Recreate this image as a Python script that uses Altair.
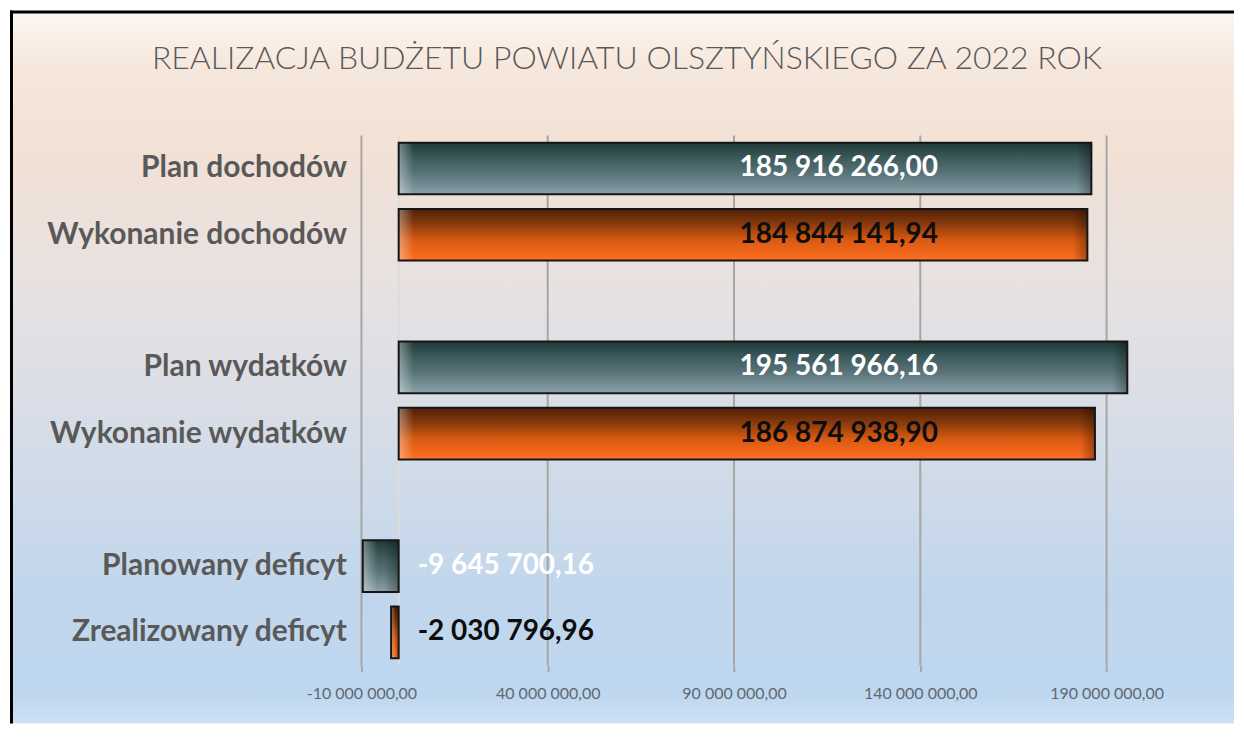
import altair as alt
import pandas as pd

# ---- data ----
categories = ["Plan dochodów", "Wykonanie dochodów", "Plan wydatków",
              "Wykonanie wydatków", "Planowany deficyt", "Zrealizowany deficyt"]
values = [185916266.00, 184844141.94, 195561966.16, 186874938.90,
          -9645700.16, -2030796.96]
series = ["Plan", "Wykonanie", "Plan", "Wykonanie", "Plan", "Wykonanie"]
kinds = ["kwota", "kwota", "kwota", "kwota", "deficyt", "deficyt"]
axis_ticks = [-10000000, 40000000, 90000000, 140000000, 190000000]
y_order = categories[:2] + [" "] + categories[2:4] + ["  "] + categories[4:]
title_text = "REALIZACJA BUDŻETU POWIATU OLSZTYŃSKIEGO ZA 2022 ROK"


def pl(v):
    return f"{v:,.2f}".replace(",", " ").replace(".", ",")


df = pd.DataFrame({
    "category": categories,
    "value": values,
    "series": series,
    "kind": kinds,
    "label": [pl(v) for v in values],
})
ticks_df = pd.DataFrame({"tick": axis_ticks})
one = pd.DataFrame({"a": [0]})

GRAY = "#595959"
FONT = "Lato"


def vgrad(stops, horizontal=False):
    return alt.LinearGradient(
        gradient="linear", x1=0, y1=0,
        x2=1 if horizontal else 0, y2=0 if horizontal else 1,
        stops=[alt.GradientStop(offset=o, color=c) for o, c in stops],
    )


x_scale = alt.Scale(domain=[-10000000, 210000000], nice=False, zero=False)
y_scale = alt.Scale(domain=y_order, paddingInner=0.22, paddingOuter=0.11)

bg_grad = vgrad([(0.0, "#fdf7f1"), (0.08, "#f6e7dc"), (0.2, "#f2e1d5"),
                 (0.42, "#e5e1e3"), (0.62, "#d3dce8"), (0.82, "#c1d6ec"),
                 (0.96, "#bed7ef"), (1.0, "#cfe1f3")])
plan_grad = vgrad([(0.0, "#1f3836"), (0.3, "#3d5a5c"), (0.6, "#587479"),
                   (1.0, "#8ba1a9")])
wyk_grad = vgrad([(0.0, "#4e1f06"), (0.3, "#8a3b0c"), (0.6, "#d95a12"),
                  (1.0, "#ff6f20")])
light_cap = vgrad([(0.0, "rgba(255,255,255,0.38)"), (1.0, "rgba(255,255,255,0.0)")],
                  horizontal=True)
dark_cap = vgrad([(0.0, "rgba(0,0,0,0.0)"), (1.0, "rgba(0,0,0,0.32)")],
                 horizontal=True)

# decorative background + frame
background = alt.Chart(one).mark_rect(fill=bg_grad).encode(
    x=alt.value(-352), x2=alt.value(874), y=alt.value(-125), y2=alt.value(589)
)
frame_left = alt.Chart(one).mark_rule(color="#000000", strokeWidth=3).encode(
    x=alt.value(-350.5), y=alt.value(-125), y2=alt.value(589)
)
frame_top = alt.Chart(one).mark_rule(color="#000000", strokeWidth=3).encode(
    x=alt.value(-352), x2=alt.value(874), y=alt.value(-123.5)
)
title = alt.Chart(one).mark_text(
    text=title_text, font=FONT, fontSize=32, fontWeight=300, color=GRAY,
    align="center", baseline="alphabetic"
).encode(x=alt.value(266), y=alt.value(-66))

grid = alt.Chart(ticks_df).mark_rule(color="#a6a6a6", strokeWidth=2).encode(
    x=alt.X("tick:Q", scale=x_scale, title=None)
)
zero_line = alt.Chart(one).mark_rule(color="#dcdcdc", strokeWidth=2).encode(
    x=alt.datum(0, scale=x_scale, title=None)
)

x_enc = alt.X(
    "value:Q", scale=x_scale, title=None,
    axis=alt.Axis(values=axis_ticks, format=",.2f", grid=False, domain=False,
                  ticks=True, tickSize=6, tickColor="#a6a6a6", tickWidth=2,
                  labelFont=FONT, labelFontSize=16, labelFlush=False,
                  labelOverlap=False, labelColor="#5f6870", labelPadding=14,
                  zindex=2),
)
y_plain = alt.Y("category:N", sort=y_order, scale=y_scale, title=None)
y_enc = alt.Y(
    "category:N", sort=y_order, scale=y_scale, title=None,
    axis=alt.Axis(domain=False, ticks=False, grid=False, labelFont=FONT,
                  labelFontSize=30, labelFontWeight="bold", labelColor=GRAY,
                  labelPadding=15, labelLimit=500, zindex=2),
)
x_plain = alt.X("value:Q", scale=x_scale, title=None)

bars_plan = alt.Chart(df).transform_filter(alt.datum.series == "Plan").mark_bar(
    fill=plan_grad
).encode(x=x_enc, y=y_enc)
bars_wyk = alt.Chart(df).transform_filter(alt.datum.series == "Wykonanie").mark_bar(
    fill=wyk_grad
).encode(x=x_plain, y=y_plain)

caps_base = alt.Chart(df).transform_calculate(
    lo="min(0, datum.value)",
    hi="max(0, datum.value)",
    w="min(4000000, abs(datum.value) / 2)",
).transform_calculate(
    lo_end="datum.lo + datum.w",
    hi_start="datum.hi - datum.w",
)
cap_left = caps_base.mark_bar(fill=light_cap).encode(
    x=alt.X("lo:Q", scale=x_scale, title=None), x2="lo_end:Q", y=y_plain
)
cap_right = caps_base.mark_bar(fill=dark_cap).encode(
    x=alt.X("hi_start:Q", scale=x_scale, title=None), x2="hi:Q", y=y_plain
)
outline = alt.Chart(df).mark_bar(
    fillOpacity=0, stroke="#161616", strokeWidth=2
).encode(x=x_plain, y=y_plain)

text_color = alt.Color("series:N", scale=alt.Scale(domain=["Plan", "Wykonanie"],
                                                  range=["#ffffff", "#0d0d0d"]),
                       legend=None)
labels_big = alt.Chart(df).transform_filter(alt.datum.kind == "kwota").mark_text(
    font=FONT, fontSize=28, fontWeight="bold", align="left", baseline="middle"
).encode(
    x=alt.datum(91500000, scale=x_scale, title=None),
    y=y_plain, text="label:N", color=text_color,
)
labels_def = alt.Chart(df).transform_filter(alt.datum.kind == "deficyt").mark_text(
    font=FONT, fontSize=28, fontWeight="bold", align="left", baseline="middle", dx=19
).encode(
    x=alt.datum(0, scale=x_scale, title=None),
    y=y_plain, text="label:N", color=text_color,
)

chart = alt.layer(
    background, frame_left, frame_top, title, grid, zero_line,
    bars_plan, bars_wyk, cap_left, cap_right, outline, labels_big, labels_def
).properties(
    width=821, height=531, padding=0
).configure_view(
    stroke=None
).configure(
    locale={"number": {"decimal": ",", "thousands": " ", "grouping": [3],
                       "currency": ["", " zł"], "minus": "-"}}
)

chart.save("out.html", embed_options={"renderer": "svg", "actions": False})
